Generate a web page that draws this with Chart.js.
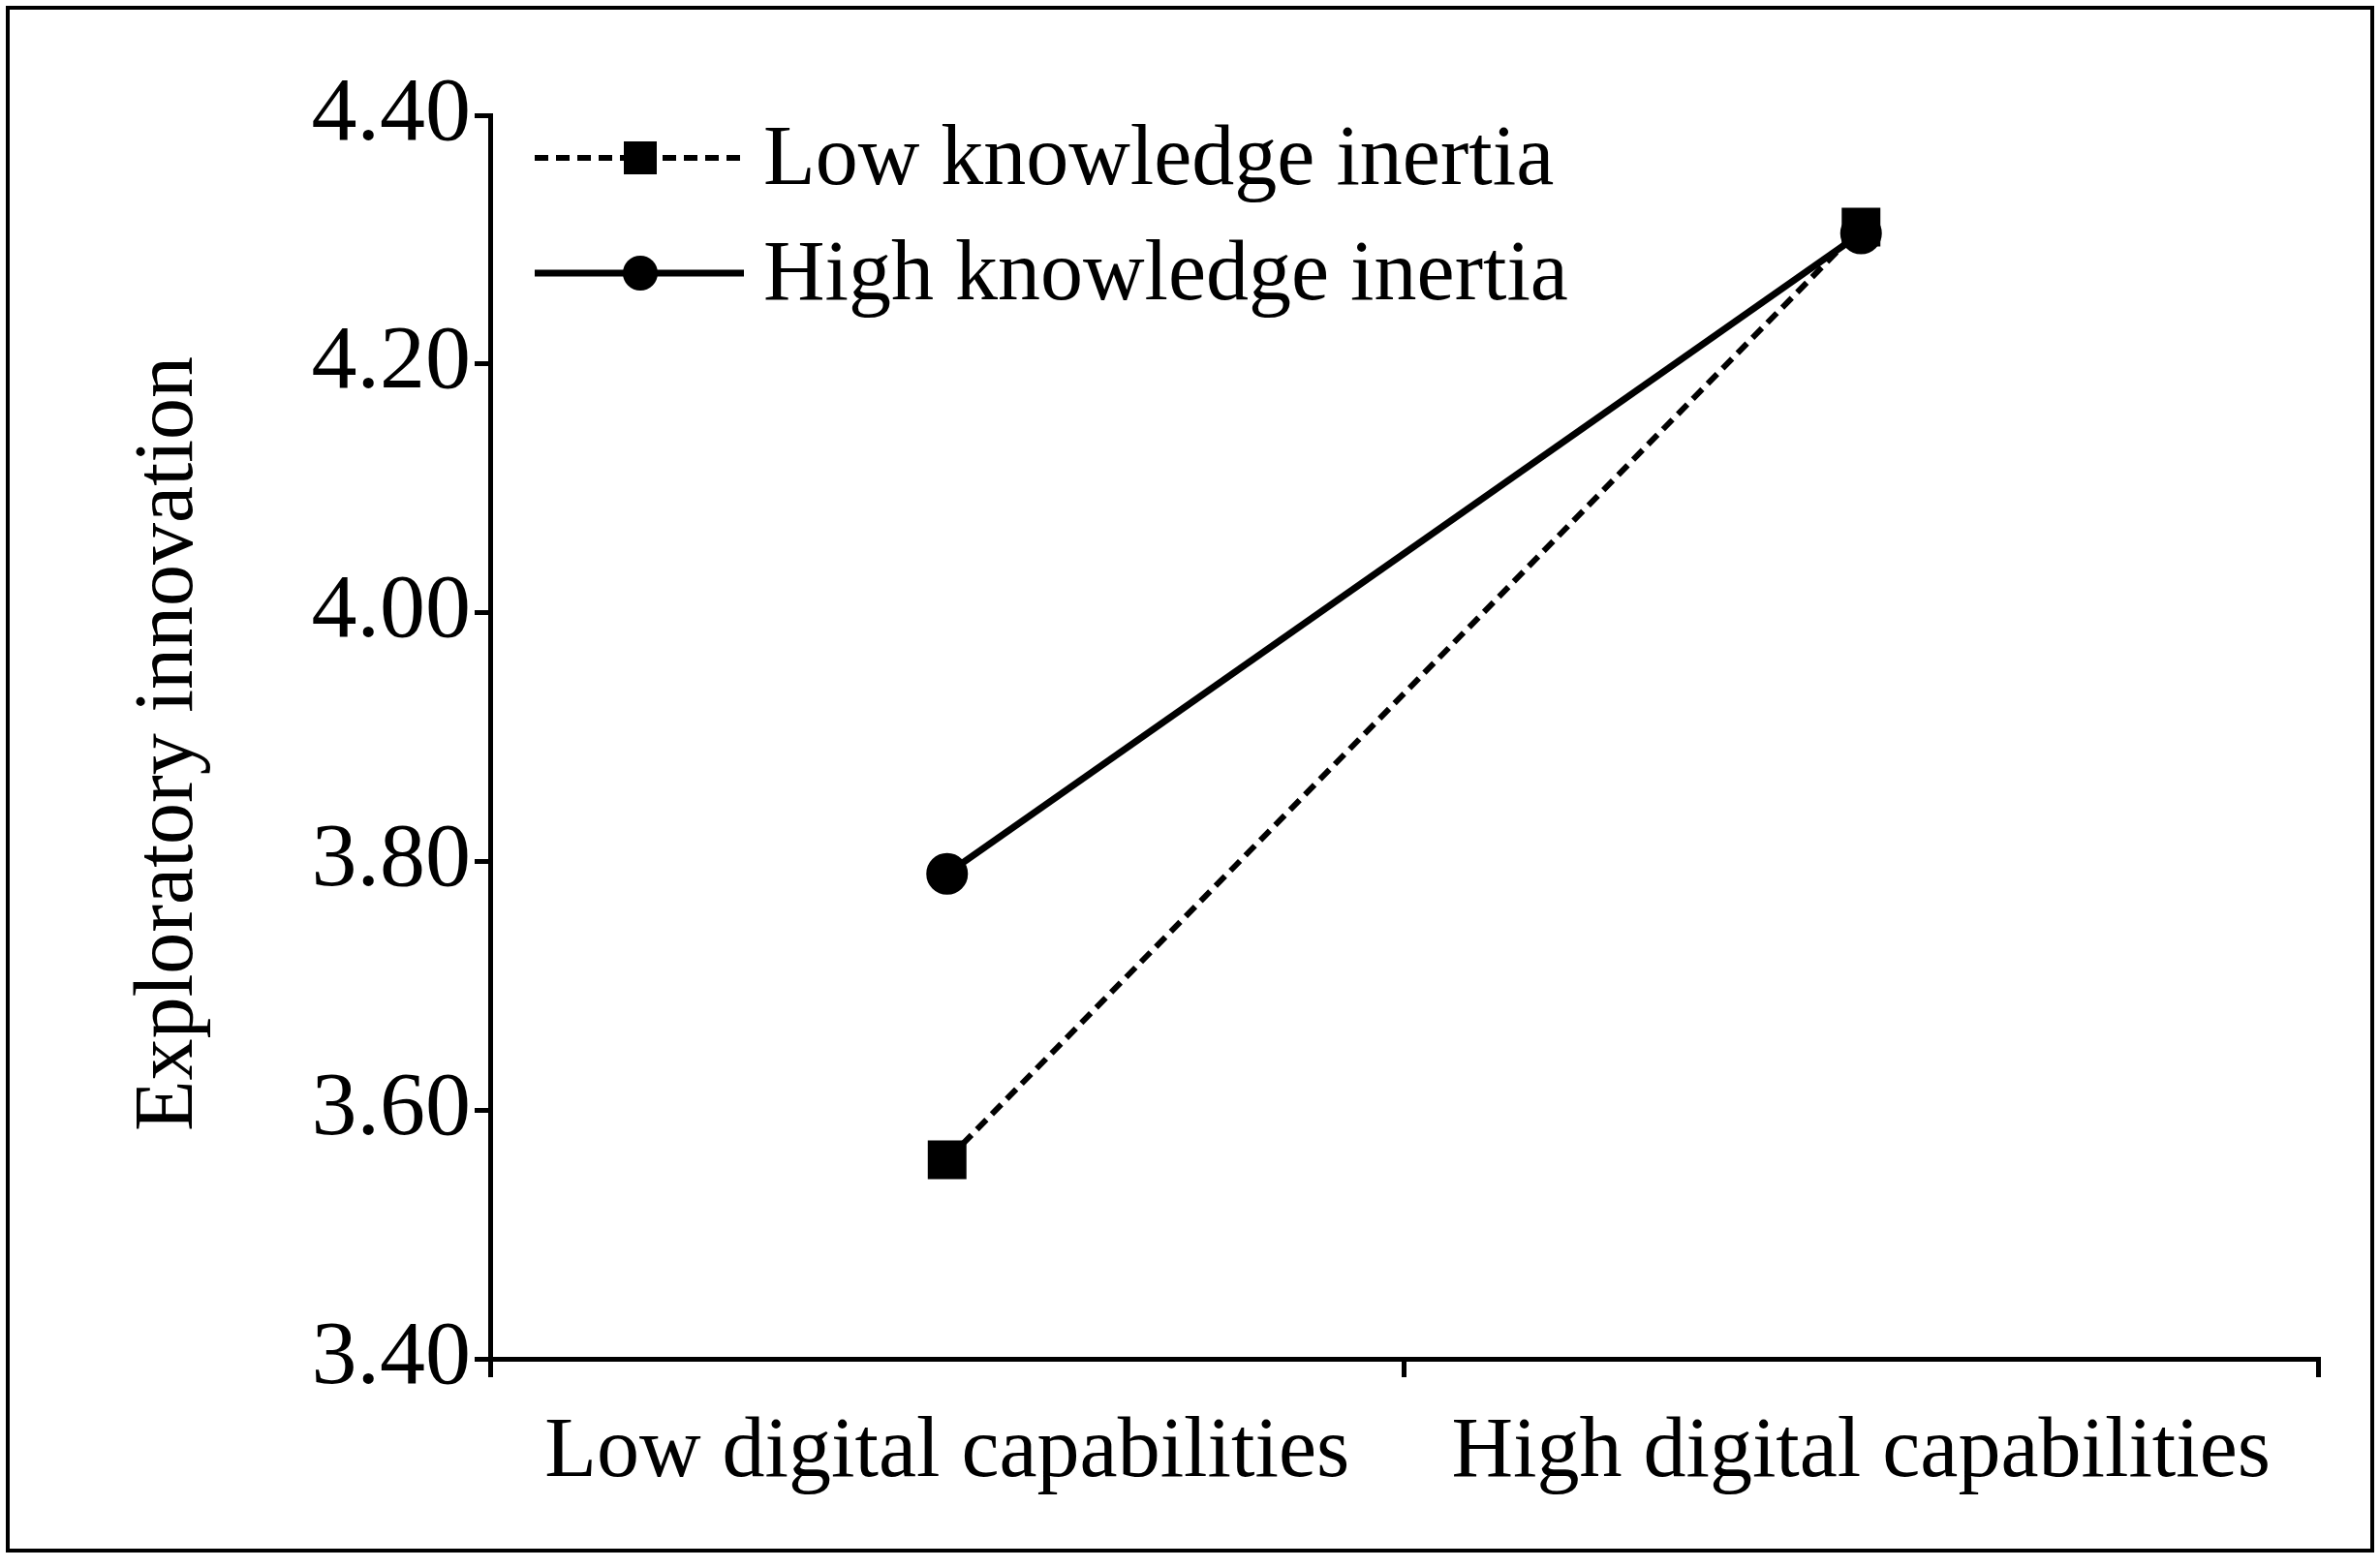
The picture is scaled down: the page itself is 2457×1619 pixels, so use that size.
<!DOCTYPE html>
<html><head><meta charset="utf-8">
<script src="https://cdn.jsdelivr.net/npm/chart.js@4/dist/chart.umd.min.js"></script>
<style>html,body{margin:0;padding:0;background:#fff}#w{width:2457px;height:1619px}</style>
</head><body><div id="w"><canvas id="c"></canvas></div>
<script>
const categories = ["Low digital capabilities", "High digital capabilities"];
const lowInertia = [3.56, 4.31];
const highInertia = [3.79, 4.305];
const seriesNames = ["Low knowledge inertia", "High knowledge inertia"];
const yTicks = [3.40, 3.60, 3.80, 4.00, 4.20, 4.40];
const yTitle = "Exploratory innovation";
const FONT = "'Liberation Serif', 'Times New Roman', serif";

const decor = {
  id: 'decor',
  afterDraw(chart) {
    const ctx = chart.ctx;
    ctx.save();
    ctx.strokeStyle = '#000'; ctx.lineWidth = 4;
    ctx.strokeRect(8, 8, 2441, 1593);
    ctx.fillStyle = '#000';
    ctx.font = "86px " + FONT;
    ctx.textAlign = 'center'; ctx.textBaseline = 'middle';
    ctx.translate(175, 768); ctx.rotate(-Math.PI / 2);
    ctx.fillText(yTitle, 0, 0);
    ctx.restore();
    ctx.save();
    chart.data.datasets.forEach((ds, i) => {
      const y = 163 + i * 119;
      ctx.strokeStyle = '#000'; ctx.lineWidth = ds.borderWidth;
      ctx.setLineDash(ds.borderDash || []);
      ctx.beginPath(); ctx.moveTo(552, y); ctx.lineTo(768, y); ctx.stroke();
      ctx.setLineDash([]);
      ctx.fillStyle = '#000';
      if (ds.pointStyle === 'rect') { ctx.fillRect(661 - 17, y - 17, 34, 34); }
      else { ctx.beginPath(); ctx.arc(661, y, 18, 0, Math.PI * 2); ctx.fill(); }
      ctx.font = "88px " + FONT; ctx.textAlign = 'left'; ctx.textBaseline = 'middle';
      ctx.fillText(ds.label, 788, y + 4);
    });
    ctx.restore();
  }
};

new Chart(document.getElementById('c'), {
  type: 'line',
  data: {
    labels: categories,
    datasets: [
      { label: seriesNames[0], data: lowInertia, borderColor: '#000', backgroundColor: '#000',
        borderWidth: 6, borderDash: [14, 8], pointStyle: 'rect', pointRadius: 24, pointHoverRadius: 24, fill: false, tension: 0 },
      { label: seriesNames[1], data: highInertia, borderColor: '#000', backgroundColor: '#000',
        borderWidth: 7, pointStyle: 'circle', pointRadius: 18, pointHoverRadius: 18, fill: false, tension: 0 }
    ]
  },
  options: {
    responsive: true, maintainAspectRatio: false, animation: false,
    layout: { padding: { left: 0, right: 64, top: 119, bottom: 0 } },
    plugins: { legend: { display: false }, tooltip: { enabled: false } },
    scales: {
      x: {
        offset: true,
        grid: { offset: true, drawOnChartArea: false, drawTicks: true, tickLength: 19, color: '#000', lineWidth: 5 },
        border: { color: '#000', width: 5 },
        ticks: { color: '#000', font: { family: FONT, size: 88 }, padding: 26, maxRotation: 0 },
        afterFit(s) { s.height = 216; }
      },
      y: {
        min: 3.4, max: 4.4,
        afterBuildTicks(s) { s.ticks = yTicks.map(v => ({ value: v })); },
        grid: { drawOnChartArea: false, drawTicks: true, tickLength: 16, color: '#000', lineWidth: 5 },
        border: { color: '#000', width: 5 },
        ticks: { color: '#000', font: { family: FONT, size: 94 }, padding: 4, callback: v => Number(v).toFixed(2) },
        afterFit(s) { s.width = 506; }
      }
    }
  },
  plugins: [decor]
});
</script></body></html>
